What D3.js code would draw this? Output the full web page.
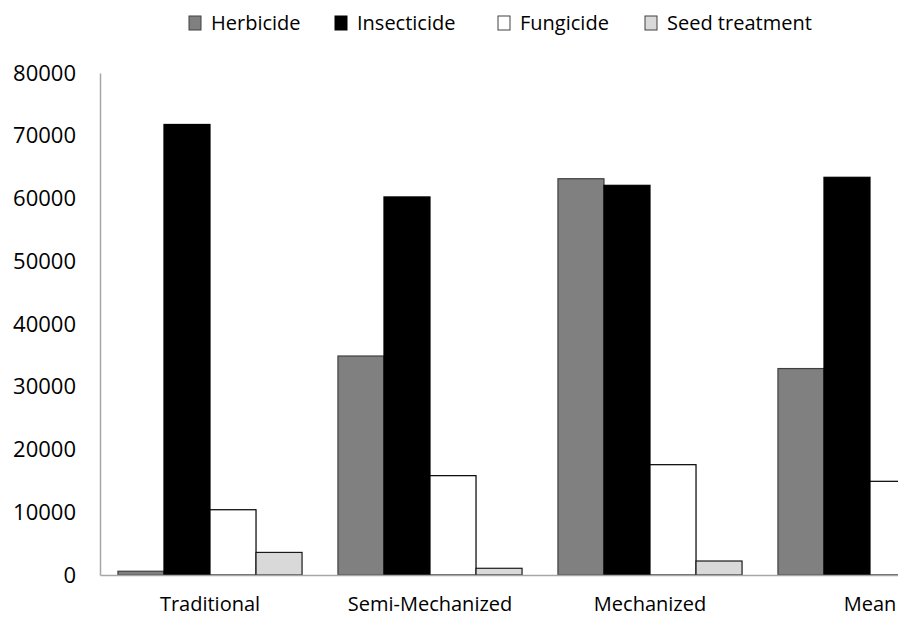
<!DOCTYPE html>
<html>
<head>
<meta charset="utf-8">
<script src="https://cdn.jsdelivr.net/npm/d3@7"></script>
<style>
  body { margin: 0; background: #fff; }
  .chart { width: 898px; height: 618px; overflow: hidden; }
  text { font-family: "Open Sans", sans-serif; fill: #000; }
</style>
</head>
<body>
<div class="chart"></div>
<script>
const categories = ['Traditional', 'Semi-Mechanized', 'Mechanized', 'Mean'];
const series = ['Herbicide', 'Insecticide', 'Fungicide', 'Seed treatment'];
const herbicide = [600, 34900, 63150, 32900];
const insecticide = [71800, 60250, 62100, 63380];
const fungicide = [10400, 15830, 17580, 14930];
const seedTreatment = [3600, 1070, 2230, 2300];
const yTicks = [0, 10000, 20000, 30000, 40000, 50000, 60000, 70000, 80000];

const fills = ['#808080', '#000000', '#ffffff', '#d9d9d9'];
const strokes = ['#3f3f3f', '#000000', '#000000', '#1a1a1a'];

const values = [herbicide, insecticide, fungicide, seedTreatment];
const data = categories.map((c, i) => ({
  category: c,
  items: series.map((s, j) => ({ series: s, value: values[j][i], idx: j }))
}));

const width = 898, height = 618;
const margins = { left: 100, top: 73, bottom: 43 };

const svg = d3.select('.chart')
  .append('svg')
  .attr('width', width)
  .attr('height', height);

// plot area runs past the right edge, like the reference crop
const x0 = d3.scaleBand()
  .domain(categories)
  .range([margins.left, margins.left + 4 * 220])
  .padding(0);

const x1 = d3.scaleBand()
  .domain(series)
  .range([0, x0.bandwidth()])
  .paddingInner(0)
  .paddingOuter(0.39);

const y = d3.scaleLinear()
  .domain([0, 80000])
  .range([height - margins.bottom, margins.top]);

// y axis
const yAxis = d3.axisLeft(y)
  .tickValues(yTicks)
  .tickFormat(d3.format('d'))
  .tickSize(0)
  .tickPadding(24);
const yG = svg.append('g')
  .attr('transform', `translate(${margins.left},0)`)
  .call(yAxis);
yG.select('.domain').attr('stroke', '#a6a6a6').attr('stroke-width', 1.5);
yG.selectAll('text')
  .style('font-size', '22px')
  .style('font-family', '"Open Sans", sans-serif')
  .attr('fill', '#000');

// bars
const groups = svg.selectAll('.group')
  .data(data)
  .enter()
  .append('g')
  .classed('group', true)
  .attr('transform', d => `translate(${x0(d.category)},0)`);

groups.selectAll('rect')
  .data(d => d.items)
  .enter()
  .append('rect')
  .attr('x', d => x1(d.series))
  .attr('y', d => y(d.value))
  .attr('width', x1.bandwidth())
  .attr('height', d => y(0) - y(d.value))
  .attr('fill', d => fills[d.idx])
  .attr('stroke', d => strokes[d.idx])
  .attr('stroke-width', 1.2);

// x axis
const xAxis = d3.axisBottom(x0).tickSize(0).tickPadding(22);
const xG = svg.append('g')
  .attr('transform', `translate(0,${y(0)})`)
  .call(xAxis);
xG.select('.domain').attr('stroke', '#a6a6a6').attr('stroke-width', 1.5);
xG.selectAll('text')
  .style('font-size', '20px')
  .style('font-family', '"Open Sans", sans-serif')
  .attr('fill', '#000');

// legend
const legendX = [189, 335, 498, 645];
const legend = svg.append('g').classed('legend', true);
const li = legend.selectAll('.item')
  .data(series)
  .enter()
  .append('g')
  .attr('transform', (d, i) => `translate(${legendX[i]}, 16)`);
li.append('rect')
  .attr('width', 12)
  .attr('height', 14)
  .attr('fill', (d, i) => fills[i])
  .attr('stroke', (d, i) => i === 1 ? '#000' : '#404040')
  .attr('stroke-width', 1);
li.append('text')
  .attr('x', 22)
  .attr('y', 14)
  .style('font-size', '20px')
  .text(d => d);
</script>
</body>
</html>
